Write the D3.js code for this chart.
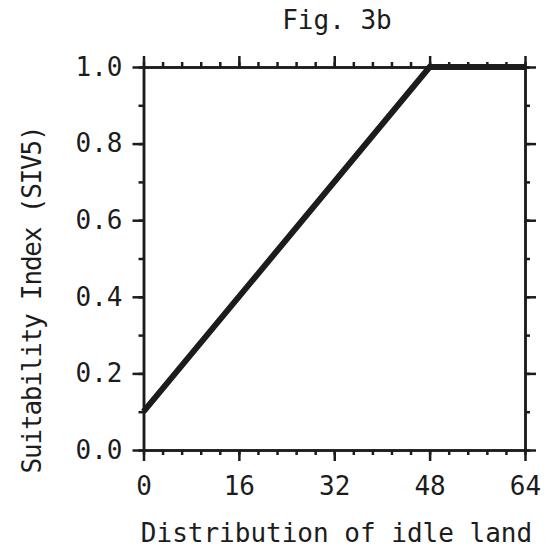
<!DOCTYPE html>
<html>
<head>
<meta charset="utf-8">
<script src="https://cdn.jsdelivr.net/npm/d3@7"></script>
<style>
  body { margin: 0; background: #fff; }
  text { font-family: "DejaVu Sans Mono", monospace; fill: #1c1c1c; }
</style>
</head>
<body>
<div id="chart"></div>
<script>
// DATA
const idleLand = [0, 48, 64];
const siv5 = [0.1, 1.0, 1.0];
const xTickValues = [0, 16, 32, 48, 64];
const yTickValues = [0.0, 0.2, 0.4, 0.6, 0.8, 1.0];
const titleText = "Fig. 3b";
const xLabelText = "Distribution of idle land";
const yLabelText = "Suitability Index (SIV5)";

// CHART DETAILS
const margin = {top: 67, right: 30, bottom: 103, left: 143.5},
    width = 555 - margin.left - margin.right,
    height = 553 - margin.top - margin.bottom;

const ink = "#1c1c1c";

// ADD SVG
const root = d3.select("#chart")
  .append("svg")
    .attr("width", 555)
    .attr("height", 553);

const svg = root.append("g")
    .attr("transform", "translate(" + margin.left + "," + margin.top + ")");

// SCALES
const x = d3.scaleLinear().domain([0, 64]).range([0, width]);
const y = d3.scaleLinear().domain([0, 1]).range([height, 0]);

const xMinor = d3.range(0, 64.001, 3.2);
const yMinor = d3.range(0, 1.0001, 0.1);

// helper to style axis groups
function styleAxis(g) {
  g.select(".domain").attr("stroke", ink).attr("stroke-width", 2.5);
  g.selectAll(".tick line").attr("stroke", ink).attr("stroke-width", 2.5);
  g.selectAll(".tick text").attr("fill", ink).style("font-size", "26px");
}

// MINOR TICKS (all four sides)
svg.append("g")
    .attr("transform", "translate(0," + height + ")")
    .call(d3.axisBottom(x).tickValues(xMinor).tickSize(5).tickSizeOuter(0).tickFormat(""))
    .call(styleAxis);
svg.append("g")
    .call(d3.axisTop(x).tickValues(xMinor).tickSize(5).tickSizeOuter(0).tickFormat(""))
    .call(styleAxis);
svg.append("g")
    .call(d3.axisLeft(y).tickValues(yMinor).tickSize(5).tickSizeOuter(0).tickFormat(""))
    .call(styleAxis);
svg.append("g")
    .attr("transform", "translate(" + width + ",0)")
    .call(d3.axisRight(y).tickValues(yMinor).tickSize(5).tickSizeOuter(0).tickFormat(""))
    .call(styleAxis);

// MAJOR TICKS + LABELS
svg.append("g")
    .attr("transform", "translate(0," + height + ")")
    .call(d3.axisBottom(x).tickValues(xTickValues).tickSize(11).tickSizeOuter(0).tickPadding(16))
    .call(styleAxis);
svg.append("g")
    .call(d3.axisTop(x).tickValues(xTickValues).tickSize(11).tickSizeOuter(0).tickFormat(""))
    .call(styleAxis);
svg.append("g")
    .call(d3.axisLeft(y).tickValues(yTickValues).tickSize(11).tickSizeOuter(0).tickPadding(10).tickFormat(d3.format(".1f")))
    .call(styleAxis);
svg.append("g")
    .attr("transform", "translate(" + width + ",0)")
    .call(d3.axisRight(y).tickValues(yTickValues).tickSize(11).tickSizeOuter(0).tickFormat(""))
    .call(styleAxis);

// DATA LINE
const line = d3.line()
  .x(function(d, i) { return x(idleLand[i]); })
  .y(function(d) { return y(d); });

svg.append("path")
    .datum(siv5)
    .attr("fill", "none")
    .attr("stroke", ink)
    .attr("stroke-width", 6)
    .attr("stroke-linejoin", "miter")
    .attr("d", line);

// TITLE
root.append("text")
    .text(titleText)
    .attr("x", 337)
    .attr("y", 29)
    .attr("text-anchor", "middle")
    .style("font-size", "26px");

// X LABEL
root.append("text")
    .text(xLabelText)
    .attr("x", 336.5)
    .attr("y", 542)
    .attr("text-anchor", "middle")
    .style("font-size", "26px");

// Y LABEL
root.append("text")
    .text(yLabelText)
    .attr("transform", "translate(41,300) rotate(-90)")
    .attr("text-anchor", "middle")
    .style("font-size", "26px")
    .style("letter-spacing", "-1.2px");
</script>
</body>
</html>
